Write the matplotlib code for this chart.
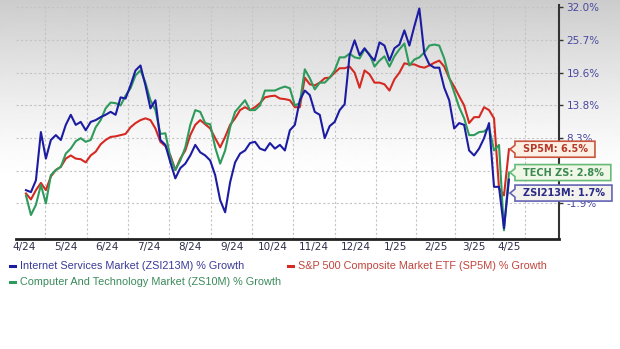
import numpy as np
import matplotlib
matplotlib.use("Agg")
import matplotlib.pyplot as plt
from matplotlib.patches import Polygon
from matplotlib.lines import Line2D
from matplotlib.transforms import IdentityTransform
from matplotlib.ticker import FixedLocator, NullLocator

# % growth, sampled roughly every 2-3 sessions from mid-April 2024 to mid-April 2025
internet = [0.1, -0.2, 1.6, 9.3, 5.0, 8.0, 8.8, 8.0, 10.5, 12.2,
            10.5, 11.0, 9.6, 11.0, 11.3, 11.8, 12.2, 12.7, 12.2, 15.2,
            15.0, 17.3, 20.0, 20.9, 17.3, 13.3, 14.7, 8.0, 7.2, 4.4,
            1.9, 3.5, 4.2, 5.5, 7.2, 6.0, 5.5, 4.7, 2.4, -1.4,
            -3.2, 1.3, 4.4, 5.8, 6.3, 7.5, 7.7, 6.6, 6.3, 7.5,
            6.6, 7.2, 6.3, 9.6, 10.5, 14.7, 16.4, 15.6, 12.7, 12.2,
            8.3, 10.3, 11.0, 13.0, 14.0, 22.8, 25.6, 22.8, 24.1, 22.8,
            21.8, 25.2, 24.6, 21.8, 24.1, 24.8, 27.5, 24.6, 28.3, 31.8,
            23.1, 21.1, 20.5, 20.5, 16.9, 14.7, 9.9, 10.8, 10.5, 6.3,
            5.5, 6.6, 8.3, 10.8, 0.6, 0.6, -5.5, 1.7]

sp500 = [-0.4, -1.3, 0.1, 1.2, 0.1, 2.2, 3.2, 3.7, 5.0, 5.5,
         5.0, 4.9, 4.4, 5.5, 6.1, 7.3, 8.0, 8.5, 8.6, 8.8,
         9.0, 10.1, 10.8, 11.3, 11.6, 11.3, 9.9, 7.7, 7.0, 5.5,
         3.2, 5.0, 6.3, 8.8, 10.5, 11.3, 10.6, 9.9, 8.3, 6.8,
         8.5, 10.5, 11.6, 13.0, 13.5, 13.0, 13.5, 14.2, 15.2, 15.4,
         15.5, 15.0, 14.9, 14.7, 13.5, 13.5, 18.7, 17.5, 17.3, 17.8,
         18.6, 18.7, 19.6, 20.4, 20.4, 20.7, 19.6, 16.9, 20.0, 19.3,
         17.8, 17.8, 17.5, 16.4, 18.4, 19.6, 21.3, 21.1, 21.1, 20.7,
         20.5, 20.9, 21.4, 21.8, 20.7, 18.6, 17.1, 15.4, 13.8, 10.8,
         11.8, 11.8, 13.5, 13.0, 11.6, 0.4, -0.7, 6.5]

tech = [-0.7, -3.6, -2.1, 0.9, -1.9, 2.4, 3.2, 3.7, 5.8, 6.6,
        7.8, 8.3, 7.7, 8.0, 10.1, 11.3, 13.3, 14.3, 14.2, 13.8,
        15.5, 16.8, 19.1, 20.0, 17.8, 14.7, 13.0, 9.0, 9.1, 5.2,
        3.2, 4.7, 6.8, 10.5, 13.0, 12.7, 10.8, 10.6, 6.8, 4.2,
        6.3, 10.1, 12.7, 13.7, 14.7, 13.0, 13.0, 13.8, 16.4, 16.4,
        16.4, 16.8, 17.1, 16.8, 13.8, 14.2, 20.2, 18.6, 16.6, 17.8,
        17.8, 18.7, 20.0, 22.4, 22.4, 23.1, 22.4, 22.2, 23.9, 23.0,
        20.7, 21.8, 22.6, 20.7, 22.6, 23.9, 25.0, 20.9, 22.0, 22.4,
        23.3, 24.6, 24.8, 24.6, 22.2, 18.7, 16.1, 13.5, 11.6, 8.8,
        8.8, 9.3, 9.4, 10.1, 6.3, 7.2, -5.8, 2.8]

month_labels = ["4/24", "5/24", "6/24", "7/24", "8/24", "9/24", "10/24",
                "11/24", "12/24", "1/25", "2/25", "3/25", "4/25"]
# month boundaries on the sample axis
month_edges = [-4.4, 3.8, 12.2, 20.5, 28.7, 37.2, 45.4, 53.6, 62.1,
               70.3, 78.3, 86.2, 93.8, 100.2]
y_ticks = [32.0, 25.7, 19.6, 13.8, 8.3, 3.1, -1.9]
# the 3.1% label sits under the value tags, so only its tick is drawn
y_tick_labels = ["32.0%", "25.7%", "19.6%", "13.8%", "8.3%", "", "-1.9%"]

series_names = ["Internet Services Market (ZSI213M) % Growth",
                "S&P 500 Composite Market ETF (SP5M) % Growth",
                "Computer And Technology Market (ZS10M) % Growth"]
tag_names = ["ZSI213M", "SP5M", "TECH ZS"]

BLUE, RED, GREEN = "#1c1ca3", "#d42a22", "#2e9a5c"

W, H = 620, 349
fig = plt.figure(figsize=(W / 100, H / 100), dpi=100)

# soft grey-to-white backdrop at the top of the figure
bg = fig.add_axes([0, 0, 1, 1], zorder=-10)
rows = np.arange(H)
shade = np.where(rows < 180, 1 - 0.2 * np.clip(1 - rows / 180, 0, 1) ** 1.3, 1.0)
bg.imshow(shade[:, None], aspect="auto", cmap="gray", vmin=0, vmax=1,
          extent=[0, 1, 0, 1], interpolation="bilinear")
bg.set_axis_off()

ax = fig.add_axes([16 / W, 1 - 239 / H, 543 / W, 234 / H])
ax.patch.set_alpha(0)

x = np.arange(len(internet))
level = lambda s: 100 + np.asarray(s, dtype=float)

ax.set_yscale("log")
ax.plot(x, level(sp500), color=RED, lw=1.5, zorder=3)
ax.plot(x, level(tech), color=GREEN, lw=1.5, zorder=4)
ax.plot(x, level(internet), color=BLUE, lw=1.5, zorder=5)

ax.set_xlim(-2.0, 107.05)
ax.set_ylim(92.96, 132.5)

# right-hand percentage axis
ax.yaxis.tick_right()
ax.yaxis.set_major_locator(FixedLocator([100 + v for v in y_ticks]))
ax.yaxis.set_minor_locator(NullLocator())
ax.set_yticklabels(y_tick_labels)
ax.tick_params(axis="y", which="major", direction="out", length=3, width=1,
               color="#333333", labelcolor="#4848a0", labelsize=7.5, pad=2.5)

# month labels sit mid-month, gridlines on month boundaries
mids = [(a + b) / 2 for a, b in zip(month_edges[:-1], month_edges[1:])]
ax.set_xticks(mids)
ax.set_xticklabels(month_labels)
ax.set_xticks(month_edges[1:], minor=True)
ax.tick_params(axis="x", which="both", length=0, labelsize=7.5,
               labelcolor="#30304a", pad=2.5)

ax.grid(axis="y", which="major", color="#c4c4c4", lw=0.8, ls=(0, (2, 2)))
ax.grid(axis="x", which="minor", color="#c4c4c4", lw=0.8, ls=(0, (2, 2)))
ax.set_axisbelow(True)

for side in ("top", "left"):
    ax.spines[side].set_visible(False)
ax.spines["bottom"].set_linewidth(2.0)
ax.spines["bottom"].set_color("#222222")
ax.spines["right"].set_linewidth(1.5)
ax.spines["right"].set_color("#333333")

# value tags at the right edge
renderer = fig.canvas.get_renderer()
tags = [
    (tag_names[1], sp500[-1], "#c9553f", "#fcefe3", "#b53a2a"),
    (tag_names[2], tech[-1], "#66bb78", "#f1f7e6", "#3a8a52"),
    (tag_names[0], internet[-1], "#6464b4", "#f3f2ec", "#2a2a88"),
]
xe_disp, _ = ax.transData.transform((x[-1], 100))
prev = None
for name, val, edge, face, tcol in tags:
    _, yd = ax.transData.transform((x[-1], 100 + val))
    if prev is not None and prev - yd < 20.5:
        yd = prev - 20.5
    prev = yd
    x_tip = xe_disp + 1
    x0 = x_tip + 5
    t = fig.text(x0 + 8, yd, f"{name}: {val:.1f}%", transform=IdentityTransform(),
                 ha="left", va="center", fontsize=7, color=tcol,
                 fontweight="bold", zorder=11)
    tw = t.get_window_extent(renderer).width
    x1 = x0 + tw + 15
    hh = 8
    poly = Polygon([(x1, yd + hh), (x0, yd + hh), (x0, yd + 4), (x_tip, yd),
                    (x0, yd - 4), (x0, yd - hh), (x1, yd - hh)],
                   closed=True, facecolor=face, edgecolor=edge, lw=1.2,
                   transform=IdentityTransform(), zorder=10)
    fig.add_artist(poly)

# legend rows beneath the axis
legend_font = ["Liberation Sans Narrow", "Liberation Sans", "DejaVu Sans"]
legend_items = [
    (series_names[0], BLUE, "#3a3a98", 10, 266),
    (series_names[1], RED, "#c0443c", 288, 266),
    (series_names[2], GREEN, "#3a8a5a", 10, 282),
]
for label, lc, tc, lx, ly in legend_items:
    yy = 1 - ly / H
    fig.add_artist(Line2D([lx / W, (lx + 5) / W], [yy, yy], color=lc, lw=2.2,
                          transform=fig.transFigure))
    fig.text((lx + 10) / W, yy, label, ha="left", va="center", fontsize=7.8,
             color=tc, family=legend_font)

fig.savefig("out.png", dpi=100)
